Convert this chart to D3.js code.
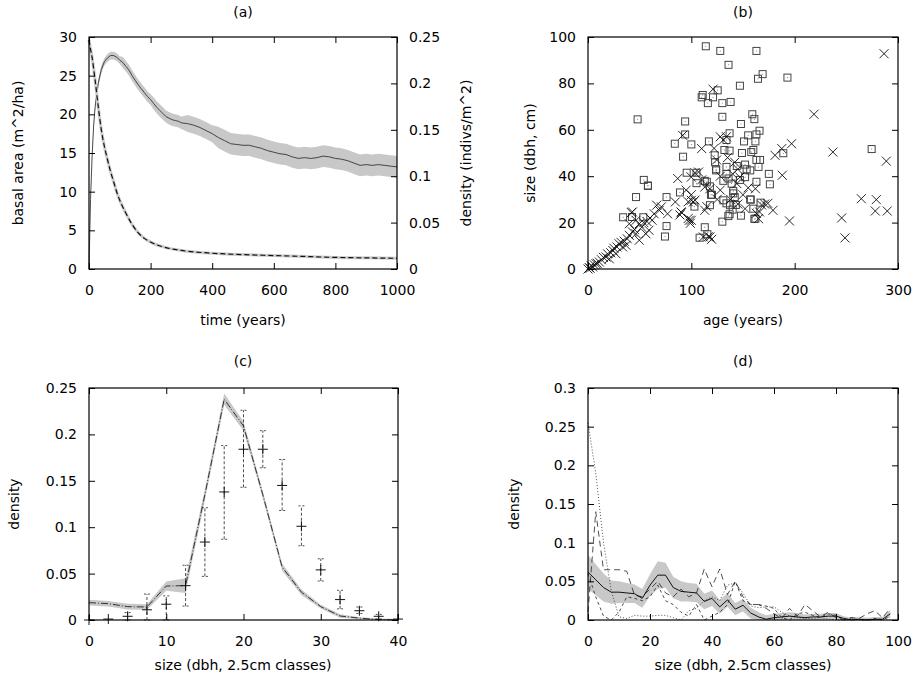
<!DOCTYPE html>
<html>
<head>
<meta charset="utf-8">
<script src="https://cdn.jsdelivr.net/npm/d3@7"></script>
<style>
  body { margin: 0; background: #fff; }
  svg { display: block; }
  text { font-family: "DejaVu Sans", sans-serif; }
</style>
</head>
<body>
<div id="chart-area"></div>
<script>
// ---- panel (a): basal area and density over time ----
var aTime = [0,5,10,15,20,30,40,50,60,70,80,90,100,110,120,130,140,150,160,170,180,190,200,210,220,230,240,250,260,270,280,290,300,
  320,340,360,380,400,420,440,460,480,500,520,540,560,580,600,620,640,660,680,700,720,740,760,780,800,820,840,860,880,900,920,940,960,980,1000];
var aBasal = [0,9,14.5,18.5,21,24,25.8,26.8,27.3,27.6,27.6,27.4,27.0,26.7,26.2,25.7,25.0,24.4,23.8,23.3,22.8,22.3,21.9,21.4,20.9,20.5,20.1,19.7,19.5,19.3,19.2,19.1,18.9,
  18.8,18.6,18.3,17.9,17.5,17.0,16.6,16.2,16.1,16.0,16.0,15.8,15.6,15.3,15.1,14.9,14.8,14.5,14.3,14.4,14.3,14.4,14.6,14.5,14.3,14.2,14.0,13.7,13.4,13.5,13.4,13.5,13.4,13.3,13.2];
var aBasalSpread = [0.1,0.3,0.4,0.4,0.4,0.5,0.5,0.5,0.5,0.5,0.5,0.5,0.5,0.7,0.7,0.7,0.7,0.7,0.7,0.7,0.7,0.7,0.7,0.8,0.8,0.8,0.8,0.8,0.8,0.8,0.8,0.8,0.8,
  1.1,1.1,1.1,1.1,1.1,1.4,1.4,1.4,1.4,1.4,1.4,1.4,1.4,1.4,1.4,1.4,1.4,1.4,1.4,1.4,1.4,1.4,1.4,1.4,1.4,1.4,1.4,1.4,1.4,1.4,1.4,1.4,1.4,1.4,1.4];
var aDensTime = [0,5,10,20,30,40,50,60,70,80,90,100,120,140,160,180,200,250,300,400,500,600,700,800,900,1000];
var aDens = [0.247,0.237,0.228,0.203,0.175,0.150,0.132,0.118,0.105,0.094,0.083,0.074,0.060,0.048,0.039,0.033,0.029,0.023,0.020,0.017,0.0155,0.0145,0.0135,0.0125,0.012,0.0115];

// ---- panel (b): size vs age ----
var bSquares = [[114,96],[128,94],[163,94],[136,88],[169,84],[164.5,82],[193,82.5],[147,79],[125.5,77],[111,75],[110,74],[121,74],[116,71.5],[130,71.5],[138,72],
  [48,64.5],[130,65.6],[159,66.7],[161,64.6],[94,63.6],[148,62.5],[166,59.6],[94,58],[137,58.5],[163,58],[84,54],[100,53.7],[117,55],[134,55.6],[151,55],
  [155,57.6],[162,55],[92,48.4],[132,51.3],[137,51],[149,50],[158,50.4],[160,51.3],[122.6,49],[189,49.9],[274.5,51.7],[166.5,47],[163,47],[123,46],
  [95.5,41.5],[124,43],[124,42.5],[134,44],[134,41],[144,44.4],[152,45],[153.5,43],[157,42.5],[165,44],[54,38.4],[58,35.8],[58,36],[105,41.5],[105,37],
  [113,38],[115,37.6],[136,39],[147,38.4],[131,38],[139,36.8],[152,39.6],[163,37.6],[175,41],[176,36.5],[118,35.6],[120,32],[140.6,33.6],[46.5,31],[76,31],
  [89,33],[119,32],[140.6,32.6],[142,31],[157,30],[131,29.6],[157.5,29.9],[134,28.3],[137.4,27.5],[143,27.6],[103,26.9],[118,27.5],[160,26],[140,25.6],
  [167,28.6],[34,22.3],[42.6,22.4],[53.5,22.3],[137,23.6],[148,23],[135.8,22.8],[161,21.6],[162,21.7],[76,18.5],[130,20.4],[113,18],[74.5,14],[108,13.5],[115.5,15]];
var bCrosses = [[286.5,92.8],[218.7,66.7],[237,50.4],[288.7,46.5],[264.5,30.3],[279,29.9],[278,25],[289.6,25],[245.5,22],[248.7,13.4],[121,77.5],[110,51.9],
  [91.6,57.6],[128,57],[134,57],[131,55.6],[124.5,47],[107,41.8],[100,39.6],[103.5,41.5],[110,38.4],[86.8,39],[95,34],[118,34.6],[113,35.3],[128,34],
  [144,36.8],[147,39.6],[162,34.6],[187.5,51.9],[197,54],[181,49],[188,40.4],[179,25.3],[171,28],[166,24.6],[165,21.7],[195,20.7],[174,28.3],[168,27.6],
  [163,24],[100,29.6],[102,28.9],[100,21],[97,29],[103.5,29.7],[100,32],[113,25.3],[115,26.9],[118,13.8],[111.6,13.8],[116.5,13.9],[119.7,12.8],[90,24.6],
  [90.6,24.3],[89,23.3],[97,21.8],[99,19.7],[98,21],[84.5,28.9],[77,23.8],[66.5,27.5],[69,25.3],[64,23.8],[71,26.8],[43,24.6],[42,24.3],[46.5,21],[49.6,19.5],
  [40,19.5],[59,16.7],[56,15.2],[46.5,15.2],[49.6,12.4],[30,10.9],[33.5,9.5],[36.8,10.2],[24,8],[27,6.6],[17.4,5.2],[20.6,4.4],[11,3],[7.7,2.3],[4.5,0.9],
  [1.3,0.6],[0,0],[2,0.3],[3,1.5],[6,1.8],[9,2.5],[13,4],[15,5],[19,6.5],[22,7],[25,9],[28,9.5],[32,11.5],[35,12],[38,13],[40,14.5],[43,16],[45,17],[52,18],
  [54,20],[57,20.5],[60,22],[62,21],[140,41],[145,43],[150,32],[155,35],[138,30],[152,26],[145,28],[125,30],[128,40],[142,46],[122,52],[135,48]];

// ---- panel (c): size distribution, model vs observed ----
var cClass = [0,2.5,5,7.5,10,12.5,15,17.5,20,22.5,25,27.5,30,32.5,35,37.5,40];
var cModel = [0.0187,0.0176,0.0144,0.014,0.0366,0.037,0.135,0.238,0.209,0.135,0.057,0.030,0.0144,0.0043,0.002,0.0005,0];
var cModelSpread = [0.003,0.003,0.003,0.003,0.005,0.008,0.006,0.006,0.005,0.004,0.004,0.003,0.002,0.002,0.001,0.001,0.001];
var cObs = [0.0,0.001,0.004,0.011,0.017,0.037,0.084,0.138,0.184,0.184,0.145,0.101,0.054,0.022,0.010,0.004,0.001];
var cObsLow = [0,0,0,0,0,0.015,0.047,0.087,0.143,0.164,0.118,0.080,0.042,0.012,0.007,0.001,0];
var cObsHigh = [0,0.002,0.008,0.028,0.026,0.059,0.121,0.188,0.226,0.204,0.173,0.123,0.066,0.032,0.014,0.006,0.002];

// ---- panel (d): size distributions, 2.5cm classes ----
var dClass = [0,2.5,5,7.5,10,12.5,15,17.5,20,22.5,25,27.5,30,32.5,35,37.5,40,42.5,45,47.5,50,52.5,55,57.5,60,62.5,65,67.5,70,72.5,75,77.5,80,82.5,85,87.5,90,92.5,95,97.5];
var dMean = [0.062,0.052,0.042,0.036,0.036,0.035,0.034,0.028,0.045,0.058,0.058,0.042,0.037,0.036,0.035,0.024,0.028,0.017,0.026,0.014,0.019,0.009,0.004,0.001,0.003,0.004,0.005,0.004,0.003,0.004,0.004,0.005,0.005,0.002,0.000,0.001,0.000,0.001,0.001,0.008];
var dMeanSpread = [0.022,0.02,0.018,0.015,0.014,0.013,0.012,0.012,0.014,0.018,0.016,0.014,0.013,0.012,0.012,0.01,0.01,0.009,0.009,0.008,0.008,0.007,0.006,0.005,0.005,0.005,0.005,0.005,0.004,0.004,0.004,0.004,0.004,0.003,0.003,0.003,0.003,0.003,0.003,0.005];
var dPlotA = [0.255,0.19,0.10,0.038,0.004,0.002,0.006,0.005,0.005,0.006,0.006,0.003,0.0,0.012,0.015,0.025,0.030,0.025,0.045,0.048,0.035,0.018,0.016,0.017,0.017,0.010,0.005,0.003,0.002,0.002,0.003,0.001,0.0,0.0,0.0,0.0,0.0,0.0,0.0,0.0];
var dPlotB = [0.01,0.14,0.065,0.065,0.065,0.063,0.032,0.03,0.04,0.05,0.035,0.03,0.04,0.03,0.035,0.066,0.043,0.066,0.033,0.05,0.03,0.02,0.02,0.015,0.008,0.002,0.015,0.005,0.02,0.012,0.004,0.01,0.003,0.0,0.003,0.002,0.008,0.012,0.003,0.015];
var dPlotC = [0.06,0.03,0.005,0.0,0.01,0.03,0.028,0.025,0.03,0.045,0.025,0.02,0.01,0.005,0.02,0.0,0.005,0.01,0.02,0.05,0.025,0.02,0.02,0.018,0.015,0.003,0.0,0.008,0.01,0.006,0.003,0.008,0.006,0.0,0.003,0.0,0.0,0.002,0.0,0.005];

var W = 917, H = 681;
var FONT = 14;
var svg = d3.select("#chart-area").append("svg")
    .attr("width", W)
    .attr("height", H);

// scales
var xA = d3.scaleLinear().domain([0, 1000]).range([89, 397]);
var yA = d3.scaleLinear().domain([0, 30]).range([269, 37]);
var yA2 = d3.scaleLinear().domain([0, 0.25]).range([269, 37]);
var xB = d3.scaleLinear().domain([0, 300]).range([588, 898]);
var yB = d3.scaleLinear().domain([0, 100]).range([269, 37]);
var xC = d3.scaleLinear().domain([0, 40]).range([89, 398]);
var yC = d3.scaleLinear().domain([0, 0.25]).range([620, 388]);
var xD = d3.scaleLinear().domain([0, 100]).range([588, 898]);
var yD = d3.scaleLinear().domain([0, 0.3]).range([620, 388]);

function styleAxis(g) {
    g.select(".domain").remove();
    g.selectAll("line").attr("stroke", "#000").attr("stroke-width", 1);
    g.selectAll("text").attr("font-size", FONT).attr("font-family", "DejaVu Sans").attr("fill", "#000");
}

// frame with inward ticks on all sides (gnuplot style)
function frame(x, y, xTicks, yTicks, y2, y2Ticks) {
    var x0 = x.range()[0], x1 = x.range()[1];
    var yb = y.range()[0], yt = y.range()[1];
    svg.append("g").attr("transform", "translate(0," + yb + ")")
        .call(d3.axisBottom(x).tickValues(xTicks).tickSize(-6).tickSizeOuter(0).tickPadding(16).tickFormat(d => d))
        .call(styleAxis);
    svg.append("g").attr("transform", "translate(0," + yt + ")")
        .call(d3.axisTop(x).tickValues(xTicks).tickSize(-6).tickSizeOuter(0).tickFormat(""))
        .call(styleAxis);
    svg.append("g").attr("transform", "translate(" + x0 + ",0)")
        .call(d3.axisLeft(y).tickValues(yTicks).tickSize(-6).tickSizeOuter(0).tickPadding(12).tickFormat(d => d))
        .call(styleAxis);
    if (y2) {
        svg.append("g").attr("transform", "translate(" + x1 + ",0)")
            .call(d3.axisRight(y2).tickValues(y2Ticks).tickSize(-6).tickSizeOuter(0).tickPadding(12).tickFormat(d => d))
            .call(styleAxis);
    } else {
        svg.append("g").attr("transform", "translate(" + x1 + ",0)")
            .call(d3.axisRight(y).tickValues(yTicks).tickSize(-6).tickSizeOuter(0).tickFormat(""))
            .call(styleAxis);
    }
    svg.append("rect")
        .attr("x", x0).attr("y", yt)
        .attr("width", x1 - x0).attr("height", yb - yt)
        .attr("fill", "none").attr("stroke", "#000").attr("stroke-width", 1.2);
}

function label(txt, x, y, rot) {
    var t = svg.append("text")
        .attr("font-size", FONT)
        .attr("text-anchor", "middle")
        .attr("dominant-baseline", "central")
        .text(txt);
    if (rot) t.attr("transform", "translate(" + x + "," + y + ") rotate(-90)");
    else t.attr("x", x).attr("y", y);
}

var BAND = "#c8c8c8";

// ---------- (a) ----------
var ga = svg.append("g");
var idxA = d3.range(aTime.length);
ga.append("path")
    .datum(idxA)
    .attr("fill", BAND)
    .attr("d", d3.area()
        .x(i => xA(aTime[i]))
        .y0(i => yA(aBasal[i] - aBasalSpread[i]))
        .y1(i => yA(aBasal[i] + aBasalSpread[i])));
ga.append("path")
    .datum(idxA)
    .attr("fill", "none").attr("stroke", "#222").attr("stroke-width", 0.8)
    .attr("d", d3.line().x(i => xA(aTime[i])).y(i => yA(aBasal[i])));
var idxA2 = d3.range(aDensTime.length);
ga.append("path")
    .datum(idxA2)
    .attr("fill", "none").attr("stroke", "#ccc").attr("stroke-width", 3)
    .attr("d", d3.line().curve(d3.curveMonotoneX).x(i => xA(aDensTime[i])).y(i => yA2(aDens[i])));
ga.append("path")
    .datum(idxA2)
    .attr("fill", "none").attr("stroke", "#111").attr("stroke-width", 1.2)
    .attr("stroke-dasharray", "5,3")
    .attr("d", d3.line().curve(d3.curveMonotoneX).x(i => xA(aDensTime[i])).y(i => yA2(aDens[i])));
frame(xA, yA, [0,200,400,600,800,1000], [0,5,10,15,20,25,30], yA2, [0,0.05,0.1,0.15,0.2,0.25]);
label("(a)", 243, 12);
label("time (years)", 243, 320);
label("basal area (m^2/ha)", 18, 153, true);
label("density (indivs/m^2)", 466, 153, true);

// ---------- (b) ----------
var gb = svg.append("g");
gb.selectAll("rect.sq").data(bSquares).enter().append("rect")
    .attr("class", "sq")
    .attr("x", d => xB(d[0]) - 3.5).attr("y", d => yB(d[1]) - 3.5)
    .attr("width", 7).attr("height", 7)
    .attr("fill", "none").attr("stroke", "#444").attr("stroke-width", 1);
gb.selectAll("circle.dot").data(bSquares).enter().append("circle")
    .attr("class", "dot")
    .attr("cx", d => xB(d[0])).attr("cy", d => yB(d[1])).attr("r", 0.5)
    .attr("fill", "#666");
gb.selectAll("path.cr").data(bCrosses).enter().append("path")
    .attr("class", "cr")
    .attr("d", d => {
        var x = xB(d[0]), y = yB(d[1]), s = 4.5;
        return "M" + (x - s) + "," + (y - s) + "L" + (x + s) + "," + (y + s) +
               "M" + (x - s) + "," + (y + s) + "L" + (x + s) + "," + (y - s);
    })
    .attr("stroke", "#111").attr("stroke-width", 0.9);
frame(xB, yB, [0,100,200,300], [0,20,40,60,80,100]);
label("(b)", 743, 12);
label("age (years)", 743, 320);
label("size (dbh, cm)", 530, 153, true);

// ---------- (c) ----------
var gc = svg.append("g");
var idxC = d3.range(cClass.length);
gc.append("path")
    .datum(idxC)
    .attr("fill", BAND)
    .attr("d", d3.area()
        .x(i => xC(cClass[i]))
        .y0(i => yC(Math.max(0, cModel[i] - cModelSpread[i])))
        .y1(i => yC(cModel[i] + cModelSpread[i])));
gc.append("path")
    .datum(idxC)
    .attr("fill", "none").attr("stroke", "#333").attr("stroke-width", 1)
    .attr("stroke-dasharray", "7,2,1,2")
    .attr("d", d3.line().x(i => xC(cClass[i])).y(i => yC(cModel[i])));
// observed with dashed error bars
idxC.forEach(i => {
    var x = xC(cClass[i]);
    if (cObsHigh[i] - cObsLow[i] > 0.003) {
        gc.append("line")
            .attr("x1", x).attr("x2", x)
            .attr("y1", yC(cObsLow[i])).attr("y2", yC(cObsHigh[i]))
            .attr("stroke", "#222").attr("stroke-width", 0.8).attr("stroke-dasharray", "3,2");
        [cObsLow[i], cObsHigh[i]].forEach(v => {
            gc.append("line")
                .attr("x1", x - 3).attr("x2", x + 3)
                .attr("y1", yC(v)).attr("y2", yC(v))
                .attr("stroke", "#222").attr("stroke-width", 0.8).attr("stroke-dasharray", "2,2");
        });
    }
    var y = yC(cObs[i]);
    gc.append("path")
        .attr("d", "M" + (x - 5) + "," + y + "H" + (x + 5) + "M" + x + "," + (y - 5) + "V" + (y + 5))
        .attr("stroke", "#111").attr("stroke-width", 1);
});
frame(xC, yC, [0,10,20,30,40], [0,0.05,0.1,0.15,0.2,0.25]);
label("(c)", 243, 361);
label("size (dbh, 2.5cm classes)", 243, 665);
label("density", 14, 504, true);

// ---------- (d) ----------
var gd = svg.append("g");
var idxD = d3.range(dClass.length);
gd.append("path")
    .datum(idxD)
    .attr("fill", BAND)
    .attr("d", d3.area()
        .x(i => xD(dClass[i]))
        .y0(i => yD(Math.max(0, dMean[i] - dMeanSpread[i])))
        .y1(i => yD(dMean[i] + dMeanSpread[i])));
var lineD = function (arr) {
    return d3.line().x(i => xD(dClass[i])).y(i => yD(arr[i]));
};
gd.append("path").datum(idxD)
    .attr("fill", "none").attr("stroke", "#222").attr("stroke-width", 0.8)
    .attr("stroke-dasharray", "1,2")
    .attr("d", lineD(dPlotA));
gd.append("path").datum(idxD)
    .attr("fill", "none").attr("stroke", "#222").attr("stroke-width", 0.8)
    .attr("stroke-dasharray", "6,4")
    .attr("d", lineD(dPlotB));
gd.append("path").datum(idxD)
    .attr("fill", "none").attr("stroke", "#222").attr("stroke-width", 0.8)
    .attr("stroke-dasharray", "3,3")
    .attr("d", lineD(dPlotC));
gd.append("path").datum(idxD)
    .attr("fill", "none").attr("stroke", "#111").attr("stroke-width", 1)
    .attr("d", lineD(dMean));
frame(xD, yD, [0,20,40,60,80,100], [0,0.05,0.1,0.15,0.2,0.25,0.3]);
label("(d)", 743, 361);
label("size (dbh, 2.5cm classes)", 743, 665);
label("density", 514, 504, true);
</script>
</body>
</html>
